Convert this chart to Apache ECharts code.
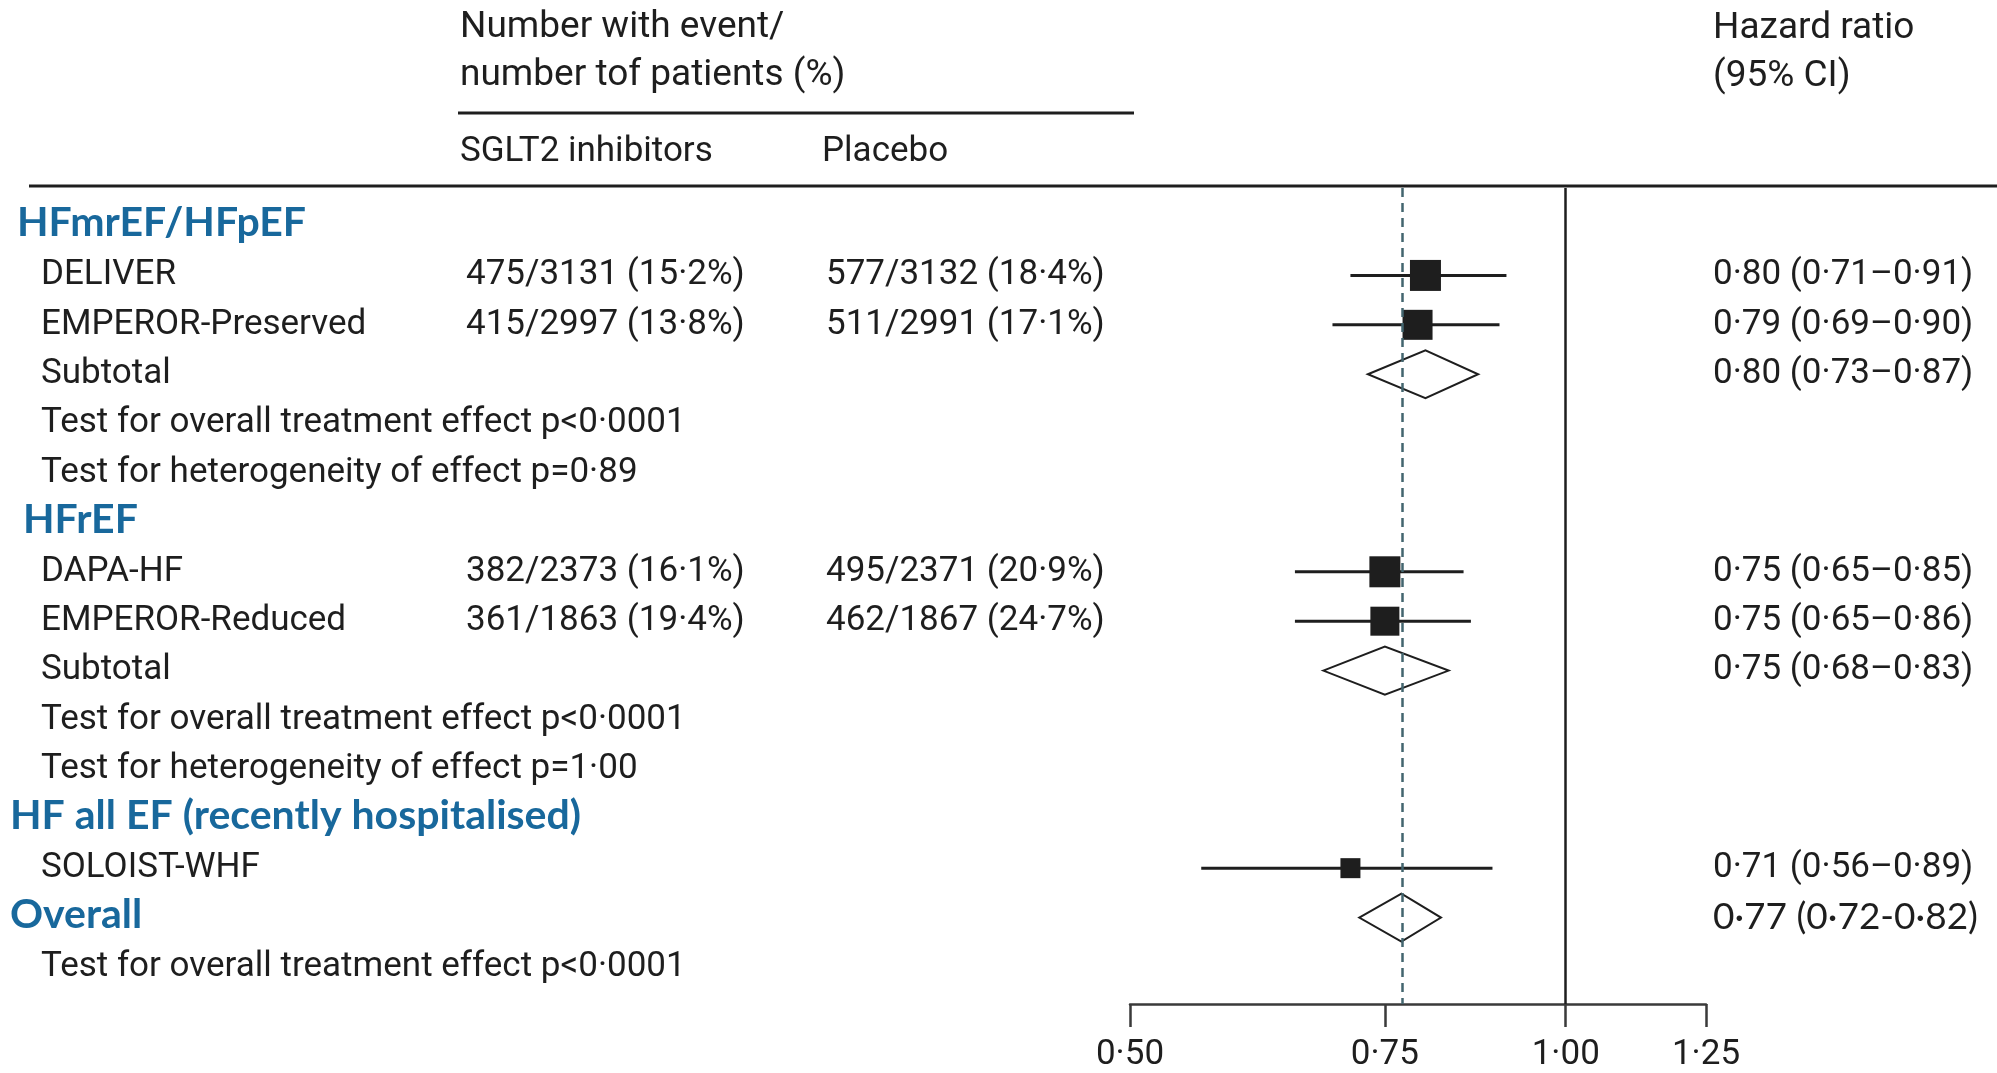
<!DOCTYPE html>
<html>
<head>
<meta charset="utf-8">
<title>SGLT2 inhibitors forest plot</title>
<script src="https://cdn.jsdelivr.net/npm/echarts@6/dist/echarts.min.js"></script>
<style>
  html, body { margin: 0; padding: 0; background: #fff; }
  #chart { width: 1997px; height: 1073px; }
</style>
</head>
<body>
<div id="chart"></div>
<script>
// one entry per row, top to bottom
const rowLabels = [
  'HFmrEF/HFpEF', 'DELIVER', 'EMPEROR-Preserved', 'Subtotal',
  'Test for overall treatment effect p<0·0001', 'Test for heterogeneity of effect p=0·89',
  'HFrEF', 'DAPA-HF', 'EMPEROR-Reduced', 'Subtotal',
  'Test for overall treatment effect p<0·0001', 'Test for heterogeneity of effect p=1·00',
  'HF all EF (recently hospitalised)', 'SOLOIST-WHF', 'Overall',
  'Test for overall treatment effect p<0·0001'
]
const rowKinds = [
  'group', 'study', 'study', 'subtotal', 'note', 'note',
  'group', 'study', 'study', 'subtotal', 'note', 'note',
  'group', 'study', 'overall', 'note'
]
const sglt2Events = [
  '', '475/3131 (15·2%)', '415/2997 (13·8%)', '', '', '',
  '', '382/2373 (16·1%)', '361/1863 (19·4%)', '', '', '',
  '', '', '', ''
]
const placeboEvents = [
  '', '577/3132 (18·4%)', '511/2991 (17·1%)', '', '', '',
  '', '495/2371 (20·9%)', '462/1867 (24·7%)', '', '', '',
  '', '', '', ''
]
const hr     = [null, 0.80, 0.79, 0.80, null, null, null, 0.75, 0.75, 0.75, null, null, null, 0.71, 0.77, null]
const hrLow  = [null, 0.71, 0.69, 0.73, null, null, null, 0.65, 0.65, 0.68, null, null, null, 0.56, 0.72, null]
const hrHigh = [null, 0.91, 0.90, 0.87, null, null, null, 0.85, 0.86, 0.83, null, null, null, 0.89, 0.82, null]
const overallHr = 0.77
const xTicks = [0.50, 0.75, 1.00, 1.25]

// styling / layout
const INK = '#1e1e1e'
const BLUE = '#18689c'
const FONT = 'Roboto, "Liberation Sans", Arial, sans-serif'
const HEAD_FONT = 'Lato, "Liberation Sans", Arial, sans-serif'
const squareSize = { 'DELIVER': 31, 'EMPEROR-Preserved': 30, 'DAPA-HF': 31, 'EMPEROR-Reduced': 29, 'SOLOIST-WHF': 20 }
const headerX = { 0: 17, 6: 23, 12: 10, 14: 10 }
const colName = 41, colSglt2 = 466, colPlacebo = 826, colHr = 1713

const fmt = v => v.toFixed(2).replace('.', '·')
const hrText = hr.map((v, i) => v == null ? '' :
  fmt(v) + ' (' + fmt(hrLow[i]) + (rowKinds[i] === 'overall' ? '-' : '–') + fmt(hrHigh[i]) + ')')

function txt(x, y, text, opt) {
  return {
    type: 'text', x: x, y: y,
    style: Object.assign({
      text: text, fill: INK, fontSize: 35, fontFamily: FONT,
      align: 'left', verticalAlign: 'middle'
    }, opt || {})
  }
}

function renderRow(params, api) {
  let i = params.dataIndex
  let y = api.coord([api.value(0), i])[1]
  let kind = rowKinds[i]
  let head = kind === 'group' || kind === 'overall'
  let children = [
    txt(head ? headerX[i] : colName, head ? y - 3 : y, rowLabels[i],
      head ? { fill: BLUE, fontWeight: 'bold', fontSize: 41, fontFamily: HEAD_FONT } : null)
  ]
  if (sglt2Events[i]) children.push(txt(colSglt2, y, sglt2Events[i]))
  if (placeboEvents[i]) children.push(txt(colPlacebo, y, placeboEvents[i]))
  if (hrText[i]) {
    children.push(txt(colHr, y, hrText[i],
      kind === 'overall' ? { fontFamily: HEAD_FONT, fontSize: 37 } : null))
  }
  return { type: 'group', children: children }
}

function renderMark(params, api) {
  let i = api.value(1)
  let c = api.coord([api.value(0), i])
  let lo = api.coord([api.value(2), i])
  let hi = api.coord([api.value(3), i])
  if (rowKinds[i] === 'study') {
    let s = squareSize[rowLabels[i]]
    return {
      type: 'group',
      children: [
        { type: 'line', shape: { x1: lo[0], y1: lo[1], x2: hi[0], y2: hi[1] }, style: { stroke: INK, lineWidth: 3 } },
        { type: 'rect', shape: { x: c[0] - s / 2, y: c[1] - s / 2, width: s, height: s }, style: { fill: INK } }
      ]
    }
  }
  let h = 24
  return {
    type: 'polygon',
    shape: { points: [[lo[0], c[1]], [c[0], c[1] - h], [hi[0], c[1]], [c[0], c[1] + h]] },
    style: { fill: 'none', stroke: INK, lineWidth: 2 }
  }
}

let markData = []
hr.forEach((v, i) => {
  if (v != null) markData.push([Math.log(v), i, Math.log(hrLow[i]), Math.log(hrHigh[i])])
})

let option = {
  animation: false,
  backgroundColor: '#fff',
  grid: { left: 1130, right: 291, top: 188, bottom: 69 },
  xAxis: {
    type: 'value',
    position: 'bottom',
    min: Math.log(xTicks[0]),
    max: Math.log(xTicks[xTicks.length - 1]),
    splitLine: { show: false },
    axisLine: { show: true, onZero: false, lineStyle: { color: '#3a3a3a', width: 2.5 } },
    axisTick: { show: true, length: 23, lineStyle: { color: '#3a3a3a', width: 2.5 }, customValues: xTicks.map(Math.log) },
    axisLabel: {
      customValues: xTicks.map(Math.log),
      formatter: v => fmt(Math.exp(v)),
      color: INK, fontSize: 35, fontFamily: FONT, margin: 34
    }
  },
  yAxis: { type: 'value', inverse: true, min: -0.77, max: 15.75, show: false },
  graphic: [
    txt(460, 28, 'Number with event/', { fontSize: 37 }),
    txt(460, 76, 'number tof patients (%)', { fontSize: 37 }),
    { type: 'line', shape: { x1: 458, y1: 113, x2: 1134, y2: 113 }, style: { stroke: INK, lineWidth: 3 } },
    txt(460, 152, 'SGLT2 inhibitors'),
    txt(822, 152, 'Placebo'),
    txt(1713, 29, 'Hazard ratio', { fontSize: 37 }),
    txt(1713, 77, '(95% CI)', { fontSize: 37 }),
    { type: 'line', shape: { x1: 29, y1: 186, x2: 1997, y2: 186 }, style: { stroke: INK, lineWidth: 3 } }
  ],
  series: [{
    type: 'line',
    data: [],
    z: 1,
    markLine: {
      silent: true,
      symbol: 'none',
      label: { show: false },
      data: [
        { xAxis: 0, lineStyle: { color: INK, width: 2.5, type: 'solid' } },
        { xAxis: Math.log(overallHr), lineStyle: { color: '#43656f', width: 2.5, type: [9, 6] } }
      ]
    }
  }, {
    type: 'custom',
    z: 3,
    renderItem: renderMark,
    data: markData
  }, {
    type: 'custom',
    z: 3,
    renderItem: renderRow,
    data: rowLabels.map((_, i) => [Math.log(xTicks[0]), i])
  }]
}

let chart = echarts.init(document.getElementById('chart'))
chart.setOption(option)
</script>
</body>
</html>
